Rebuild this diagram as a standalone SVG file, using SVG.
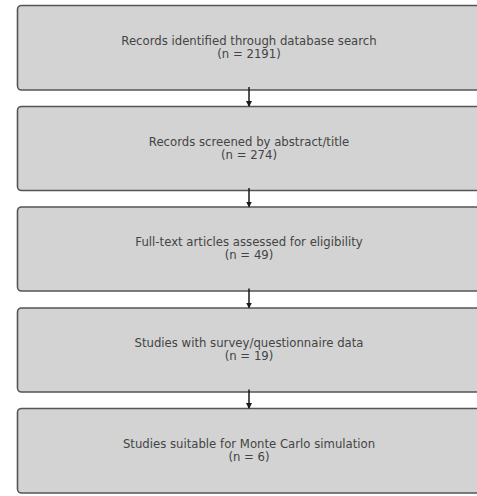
<svg xmlns="http://www.w3.org/2000/svg" width="477" height="496" viewBox="0 0 477 496">
<defs>
<marker id="ah" markerWidth="6" markerHeight="6" refX="5" refY="3" orient="auto" markerUnits="userSpaceOnUse">
<path d="M0,0 L6,3 L0,6 Z" fill="#1a1a1a"/>
</marker>
<style>
.box{fill:#d3d3d3;stroke:#555555;stroke-width:1.6}
.t{font-family:"DejaVu Sans",sans-serif;font-size:11.7px;fill:#444444;text-anchor:middle}
.c{stroke:#1a1a1a;stroke-width:1.5;fill:none}
</style>
</defs>
<rect width="477" height="496" fill="#ffffff"/>
<g id="n1"><rect class="box" x="17.5" y="5.5" width="464" height="84.5" rx="4"/><text class="t" x="249" y="45">Records identified through database search</text><text class="t" x="249" y="58">(n = 2191)</text></g>
<g id="n2"><rect class="box" x="17.5" y="106.5" width="464" height="84" rx="4"/><text class="t" x="249" y="145.5">Records screened by abstract/title</text><text class="t" x="249" y="158.5">(n = 274)</text></g>
<g id="n3"><rect class="box" x="17.5" y="207" width="464" height="84" rx="4"/><text class="t" x="249" y="246">Full-text articles assessed for eligibility</text><text class="t" x="249" y="259">(n = 49)</text></g>
<g id="n4"><rect class="box" x="17.5" y="308" width="464" height="84" rx="4"/><text class="t" x="249" y="347">Studies with survey/questionnaire data</text><text class="t" x="249" y="360">(n = 19)</text></g>
<g id="n5"><rect class="box" x="17.5" y="408.5" width="464" height="84.5" rx="4"/><text class="t" x="249" y="448">Studies suitable for Monte Carlo simulation</text><text class="t" x="249" y="461">(n = 6)</text></g>
<g id="connectors">
<line class="c" x1="249" y1="87" x2="249" y2="106" marker-end="url(#ah)"/>
<line class="c" x1="249" y1="188" x2="249" y2="206.5" marker-end="url(#ah)"/>
<line class="c" x1="249" y1="288.5" x2="249" y2="307.5" marker-end="url(#ah)"/>
<line class="c" x1="249" y1="389.5" x2="249" y2="408" marker-end="url(#ah)"/>
</g>
</svg>
